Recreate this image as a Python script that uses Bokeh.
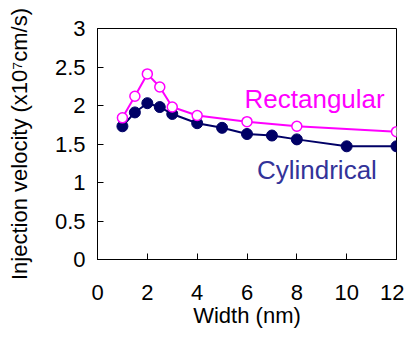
from bokeh.plotting import figure
from bokeh.models import Range1d, FixedTicker, Label
from bokeh.embed import file_html
from bokeh.resources import INLINE

cyl_x = [1, 1.5, 2, 2.5, 3, 4, 5, 6, 7, 8, 10, 12]
cyl_y = [1.73, 1.91, 2.03, 1.98, 1.89, 1.77, 1.71, 1.63, 1.61, 1.56, 1.47, 1.47]
rect_x = [1, 1.5, 2, 2.5, 3, 4, 6, 8, 12]
rect_y = [1.84, 2.12, 2.41, 2.24, 1.98, 1.87, 1.79, 1.73, 1.66]
x_ticks = [0, 2, 4, 6, 8, 10, 12]
y_ticks = [0, 0.5, 1, 1.5, 2, 2.5, 3]

FONT = "Liberation Sans"
NAVY = "#000066"
MAG = "#FF00FF"

p = figure(width=404, height=330, output_backend="svg", toolbar_location=None,
           x_range=Range1d(0, 12), y_range=Range1d(0, 3),
           min_border_left=97, min_border_right=8, min_border_top=28, min_border_bottom=68)
p.outline_line_color = "black"
p.outline_line_width = 1
p.grid.visible = False
p.background_fill_color = "white"
p.border_fill_color = "white"

p.xaxis.ticker = FixedTicker(ticks=x_ticks)
p.yaxis.ticker = FixedTicker(ticks=y_ticks)
p.yaxis.major_label_overrides = {0: "0", 0.5: "0.5", 1: "1", 1.5: "1.5", 2: "2", 2.5: "2.5", 3: "3"}
for ax in (p.xaxis, p.yaxis):
    ax.major_tick_in = 6
    ax.major_tick_out = 0
    ax.minor_tick_in = 0
    ax.minor_tick_out = 0
    ax.axis_line_color = "black"
    ax.major_tick_line_color = "black"
    ax.major_label_text_font = FONT
    ax.major_label_text_font_size = "22px"
    ax.major_label_text_color = "black"
    ax.axis_label_text_font = FONT
    ax.axis_label_text_font_size = "22px"
    ax.axis_label_text_font_style = "normal"
    ax.axis_label_text_color = "black"
p.xaxis.major_label_standoff = 25
p.yaxis.major_label_standoff = 12
p.xaxis.axis_label = "Width (nm)"
p.xaxis.axis_label_standoff = 0
p.yaxis.axis_label = "Injection velocity (x10\u2077cm/s)"
p.yaxis.axis_label_standoff = 20

p.line(cyl_x, cyl_y, line_color=NAVY, line_width=2)
p.scatter(cyl_x, cyl_y, size=11, fill_color=NAVY, line_color=NAVY)
p.line(rect_x, rect_y, line_color=MAG, line_width=2)
p.scatter(rect_x, rect_y, size=10, fill_color="white", line_color=MAG, line_width=1.5)

p.add_layout(Label(x=5.9, y=2.08, text="Rectangular", text_font=FONT, text_font_size="26px",
                   text_color=MAG, text_baseline="middle"))
p.add_layout(Label(x=6.4, y=1.16, text="Cylindrical", text_font=FONT, text_font_size="26px",
                   text_color="#333399", text_baseline="middle"))

open("out.html", "w").write(file_html(p, INLINE))
